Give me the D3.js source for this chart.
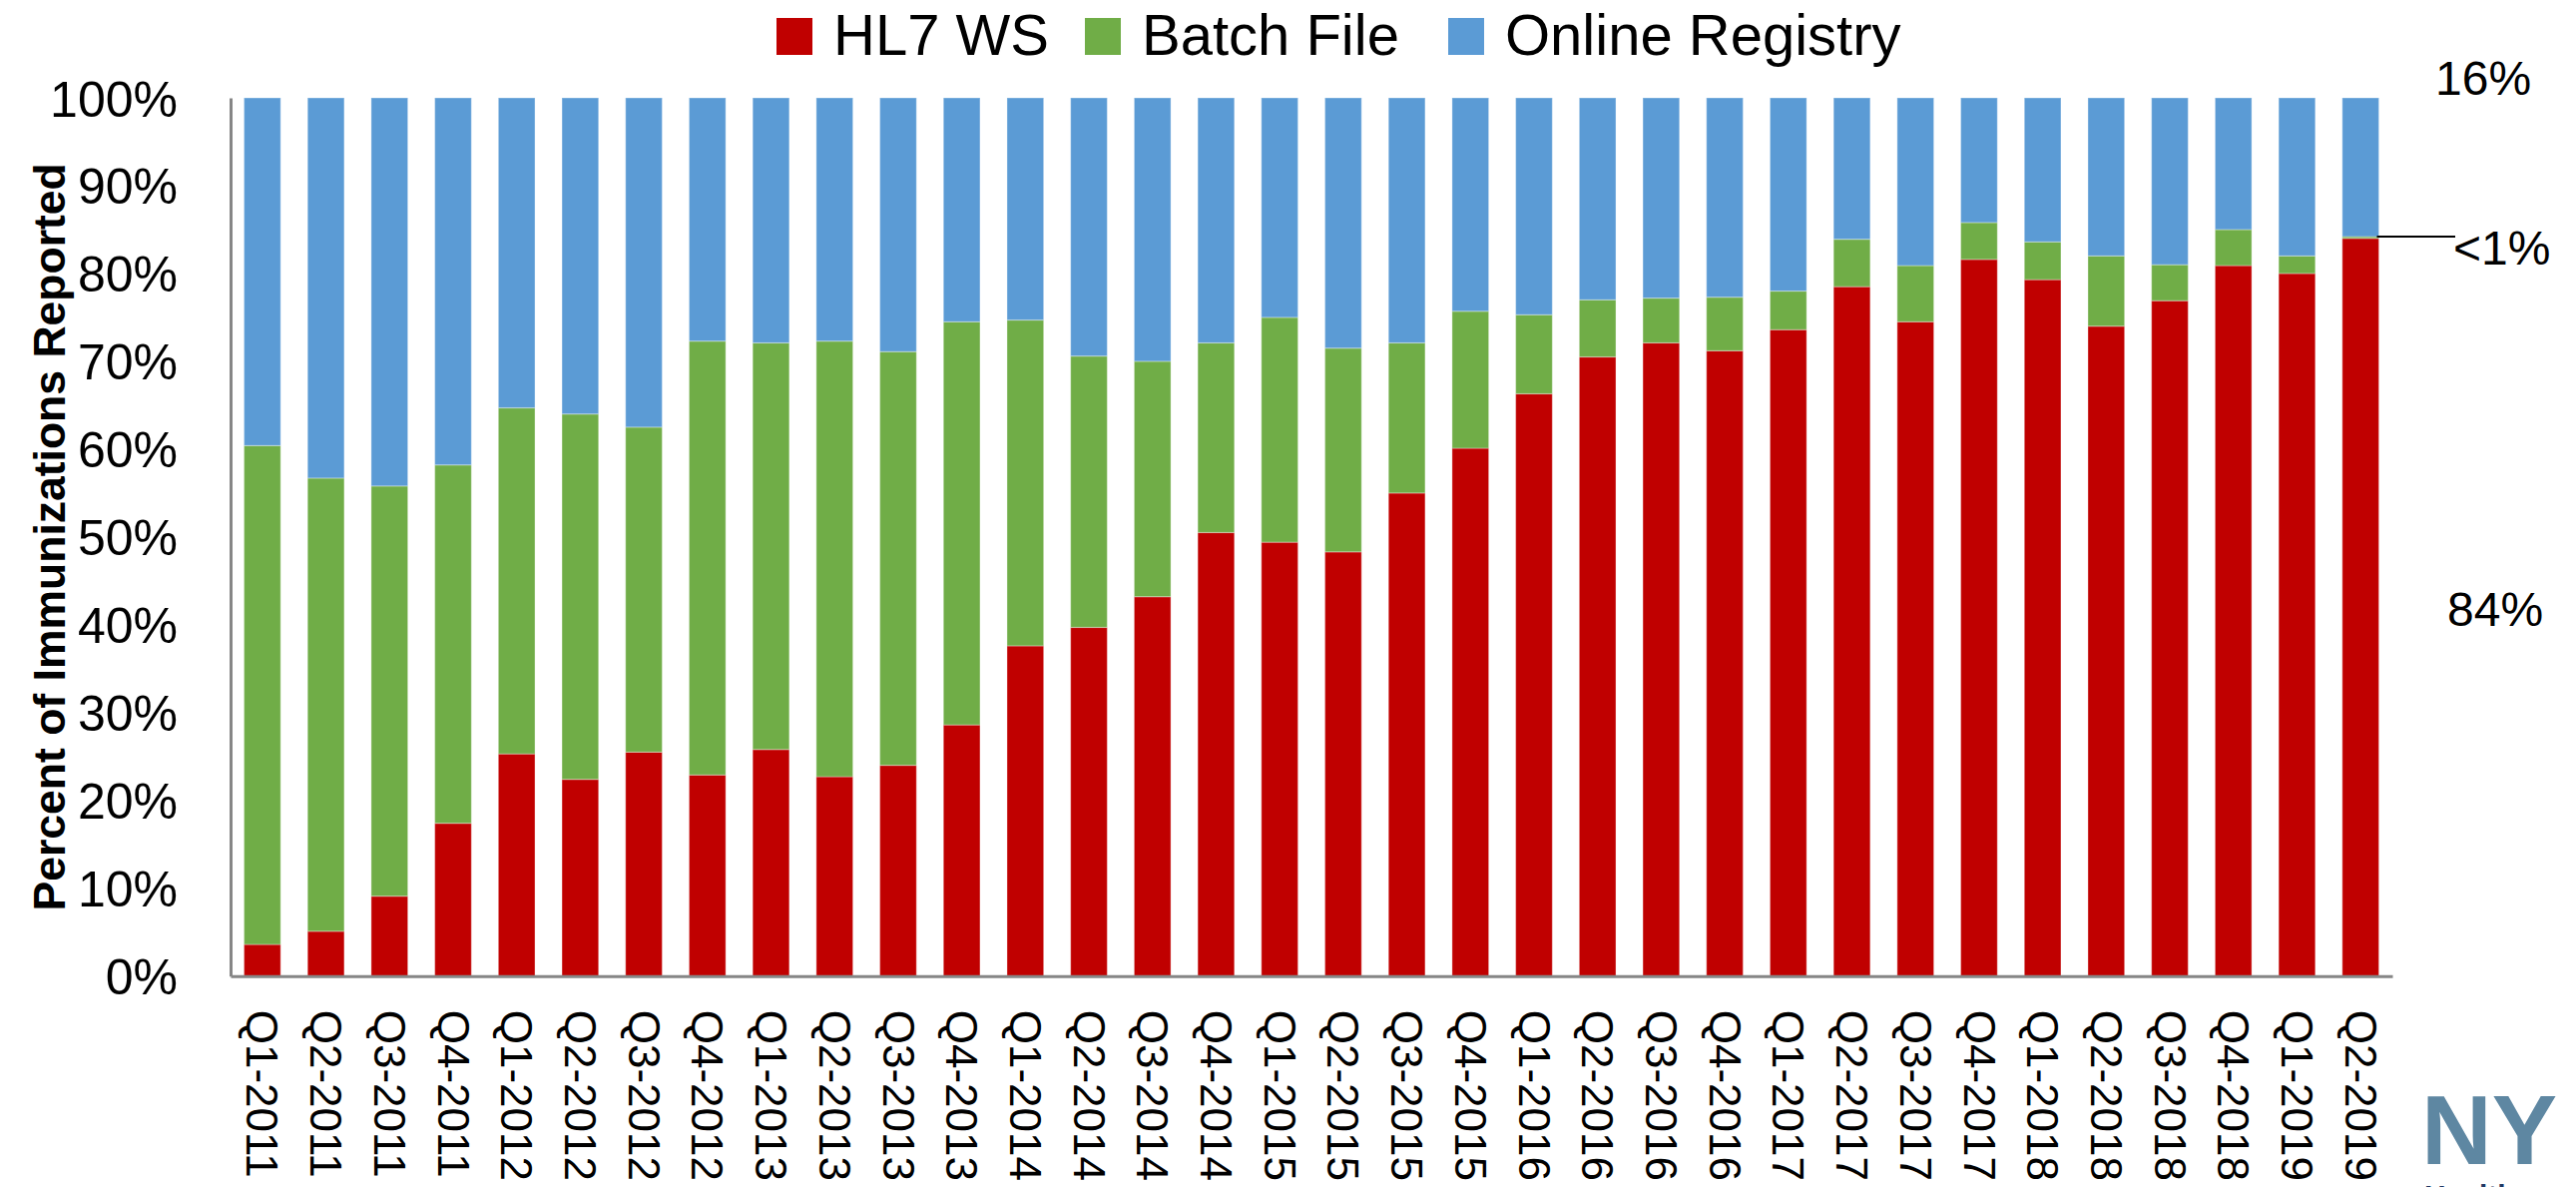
<!DOCTYPE html>
<html lang="en">

<head>
    <meta charset="UTF-8">
    <title>Immunizations Reported by Method</title>
    <script src="https://d3js.org/d3.v7.min.js"></script>
    <style>
        body { margin: 0; background: #fff; }
        text { font-family: "Liberation Sans", Arial, sans-serif; fill: #000; }
    </style>
</head>

<body>
    <script>
        // quarters on the x axis
        var quarters = [
            "Q1-2011", "Q2-2011", "Q3-2011", "Q4-2011",
            "Q1-2012", "Q2-2012", "Q3-2012", "Q4-2012",
            "Q1-2013", "Q2-2013", "Q3-2013", "Q4-2013",
            "Q1-2014", "Q2-2014", "Q3-2014", "Q4-2014",
            "Q1-2015", "Q2-2015", "Q3-2015", "Q4-2015",
            "Q1-2016", "Q2-2016", "Q3-2016", "Q4-2016",
            "Q1-2017", "Q2-2017", "Q3-2017", "Q4-2017",
            "Q1-2018", "Q2-2018", "Q3-2018", "Q4-2018",
            "Q1-2019", "Q2-2019"
        ];

        // share of immunizations (%) per reporting method
        var hl7WS = [3.6, 5.1, 9.1, 17.4, 25.3, 22.4, 25.5, 22.9, 25.8, 22.7, 24.0, 28.6,
            37.6, 39.7, 43.2, 50.5, 49.4, 48.3, 55.0, 60.1, 66.3, 70.5, 72.1, 71.2,
            73.6, 78.5, 74.5, 81.6, 79.3, 74.0, 76.9, 80.9, 80.0, 84.0];
        var batchFile = [56.8, 51.6, 46.7, 40.8, 39.4, 41.6, 37.0, 49.4, 46.3, 49.6, 47.1, 45.9,
            37.1, 30.9, 26.8, 21.6, 25.6, 23.2, 17.1, 15.6, 9.0, 6.5, 5.1, 6.1,
            4.4, 5.4, 6.4, 4.2, 4.3, 8.0, 4.1, 4.1, 2.0, 0.2];
        var onlineRegistry = [39.6, 43.3, 44.2, 41.8, 35.3, 36.0, 37.5, 27.7, 27.9, 27.7, 28.9, 25.5,
            25.3, 29.4, 30.0, 27.9, 25.0, 28.5, 27.9, 24.3, 24.7, 23.0, 22.8, 22.7,
            22.0, 16.1, 19.1, 14.2, 16.4, 18.0, 19.0, 15.0, 18.0, 15.8];

        var seriesNames = ["HL7 WS", "Batch File", "Online Registry"];
        var seriesColors = ["#C00000", "#70AD47", "#5B9BD5"];

        // labels next to the last bar
        var endLabels = [
            { text: "16%", x: 2440, y: 95 },
            { text: "<1%", x: 2458, y: 265 },
            { text: "84%", x: 2452, y: 627 }
        ];

        // Build rows for the stack
        var rows = quarters.map(function (q, i) {
            return { quarter: q, "HL7 WS": hl7WS[i], "Batch File": batchFile[i], "Online Registry": onlineRegistry[i] };
        });

        var W = 2581, H = 1189;
        var plotLeft = 231, plotRight = 2397, plotTop = 98, plotBottom = 977.7;

        var svg = d3.select("body").append("svg")
            .attr("width", W)
            .attr("height", H);

        // scales
        var x = d3.scaleBand().domain(quarters).range([plotLeft, plotRight])
            .paddingInner(0.424).paddingOuter(0.212);
        var y = d3.scaleLinear().domain([0, 100]).range([plotBottom, plotTop]);
        var color = d3.scaleOrdinal().domain(seriesNames).range(seriesColors);

        var stacked = d3.stack().keys(seriesNames)(rows);

        // bars
        svg.append("g").selectAll("g")
            .data(stacked)
            .enter().append("g")
            .attr("fill", function (d) { return color(d.key); })
            .selectAll("rect")
            .data(function (d) { return d; })
            .enter().append("rect")
            .attr("x", function (d) { return x(d.data.quarter); })
            .attr("y", function (d) { return y(d[1]); })
            .attr("width", x.bandwidth())
            .attr("height", function (d) { return y(d[0]) - y(d[1]); })
            .attr("stroke", "rgba(255,255,255,0.3)")
            .attr("stroke-width", 1.2);

        // y axis
        var yAxis = svg.append("g")
            .attr("transform", "translate(" + plotLeft + ",0)")
            .call(d3.axisLeft(y).tickValues(d3.range(0, 101, 10))
                .tickFormat(function (d) { return d + "%"; })
                .tickSize(0).tickPadding(53));
        yAxis.select(".domain").attr("stroke", "#868686").attr("stroke-width", 3);
        yAxis.selectAll("text")
            .style("font-size", "50px")
            .attr("dy", "0.36em");

        // x axis
        var xAxis = svg.append("g")
            .attr("transform", "translate(0," + plotBottom + ")")
            .call(d3.axisBottom(x).tickSize(0));
        xAxis.select(".domain").attr("stroke", "#868686").attr("stroke-width", 3);
        xAxis.selectAll("text")
            .style("font-size", "44px")
            .style("text-anchor", "start")
            .attr("x", 34)
            .attr("y", 0)
            .attr("dy", "0.35em")
            .attr("transform", "rotate(90)");

        // y axis title
        svg.append("text")
            .attr("transform", "translate(49," + (plotTop + plotBottom) / 2 + ") rotate(-90)")
            .attr("text-anchor", "middle")
            .attr("dy", "0.36em")
            .style("font-size", "44.5px")
            .style("font-weight", "bold")
            .text("Percent of Immunizations Reported");

        // legend
        var legendX = [778, 1087, 1451];
        var legend = svg.append("g").selectAll("g")
            .data(seriesNames)
            .enter().append("g")
            .attr("transform", function (d, i) { return "translate(" + legendX[i] + ",18)"; });
        legend.append("rect")
            .attr("width", 36)
            .attr("height", 37)
            .attr("fill", function (d) { return color(d); });
        legend.append("text")
            .attr("x", 57)
            .attr("y", 37)
            .style("font-size", "58px")
            .text(function (d) { return d; });

        // leader line for the small batch share of the last bar
        var last = quarters[quarters.length - 1];
        var lastTop = hl7WS[hl7WS.length - 1] + batchFile[batchFile.length - 1];
        svg.append("line")
            .attr("x1", x(last) + x.bandwidth() - 2)
            .attr("x2", 2460)
            .attr("y1", y(lastTop))
            .attr("y2", y(lastTop))
            .attr("stroke", "#000")
            .attr("stroke-width", 2);

        svg.append("g").selectAll("text")
            .data(endLabels)
            .enter().append("text")
            .attr("x", function (d) { return d.x; })
            .attr("y", function (d) { return d.y; })
            .style("font-size", "48px")
            .text(function (d) { return d.text; });

        // logo corner (cut off in the original)
        svg.append("text")
            .attr("x", 2426)
            .attr("y", 1166)
            .style("font-size", "98px")
            .style("font-weight", "900")
            .style("fill", "#5E87A2")
            .text("NY");
        svg.append("text")
            .attr("x", 2429)
            .attr("y", 1208)
            .style("font-size", "30px")
            .style("font-weight", "bold")
            .style("fill", "#1F3864")
            .text("Health");
    </script>
</body>

</html>
